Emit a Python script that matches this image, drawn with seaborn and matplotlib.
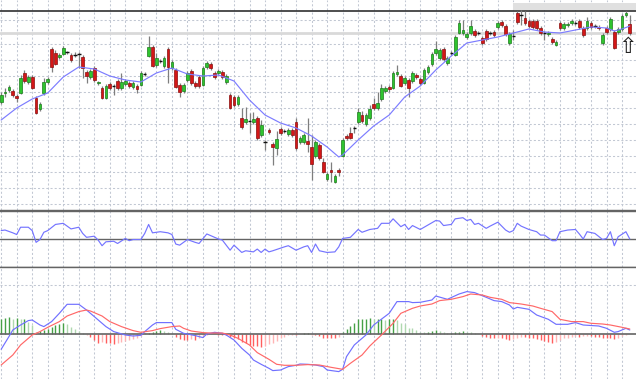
import matplotlib
matplotlib.use('Agg')
import matplotlib.pyplot as plt
import seaborn as sns
import numpy as np

#candles (price units are arbitrary)
opens = [98, 107, 110, 109, 104, 107, 127, 118, 123, 102,
         91, 107, 118, 151, 147, 143, 146, 148, 145, 145,
         146, 143, 128, 123, 132, 117, 112, 102, 116, 114,
         119, 112, 116, 117, 113, 114, 115, 126, 144, 153,
         135, 139, 134, 151, 132, 130, 115, 109, 120, 129,
         117, 123, 115, 133, 136, 127, 127, 128, 118, 105,
         103, 96, 82, 78, 79, 78, 82, 65, 58, 70,
         56, 52, 71, 69, 66, 70, 78, 58, 58, 59,
         53, 44, 55, 38, 21, 30, 18, 30, 44, 64,
         67, 72, 78, 85, 76, 82, 96, 92, 101, 109,
         113, 112, 126, 124, 117, 120, 119, 125, 121, 117,
         128, 136, 147, 142, 151, 137, 147, 145, 167, 167,
         163, 167, 169, 167, 162, 169, 167, 168, 173, 178,
         174, 157, 164, 187, 185, 182, 179, 179, 179, 172,
         167, 166, 161, 155, 177, 172, 175, 177, 177, 179,
         172, 172, 177, 174, 173, 157, 172, 171, 168, 168,
         171, 185, 176]
closes = [105, 108, 113, 105, 102, 122, 119, 123, 112, 87,
          96, 118, 121, 133, 136, 145, 152, 148, 140, 145,
          146, 132, 124, 129, 120, 118, 102, 114, 112, 114,
          112, 118, 119, 114, 117, 111, 127, 126, 153, 134,
          142, 139, 142, 133, 138, 113, 108, 115, 127, 117,
          114, 114, 132, 137, 132, 123, 129, 123, 124, 92,
          95, 103, 73, 81, 79, 81, 62, 75, 58, 68,
          53, 61, 67, 69, 70, 65, 52, 62, 65, 56,
          36, 58, 42, 28, 26, 28, 24, 28, 60, 62,
          62, 72, 88, 79, 85, 91, 92, 97, 112, 112,
          111, 127, 128, 114, 122, 112, 127, 123, 117, 130,
          133, 146, 151, 150, 141, 142, 147, 163, 177, 170,
          166, 174, 165, 167, 157, 161, 167, 165, 177, 175,
          166, 166, 164, 178, 185, 177, 174, 173, 172, 167,
          167, 167, 158, 158, 172, 176, 176, 179, 177, 173,
          165, 179, 173, 174, 172, 165, 168, 181, 152, 171,
          184, 187, 167]
highs = [108, 112, 115, 111, 106, 125, 130, 125, 125, 104,
         98, 122, 123, 153, 150, 147, 154, 149, 147, 148,
         148, 145, 130, 131, 134, 119, 114, 116, 118, 116,
         121, 127, 121, 119, 119, 116, 129, 128, 164, 155,
         147, 141, 144, 153, 140, 132, 117, 117, 129, 131,
         119, 125, 134, 139, 138, 129, 131, 130, 126, 107,
         105, 105, 92, 93, 87, 88, 84, 80, 60, 72,
         58, 69, 73, 71, 72, 72, 82, 64, 67, 82,
         65, 60, 57, 42, 28, 38, 26, 32, 62, 66,
         73, 74, 92, 89, 87, 95, 102, 108, 116, 114,
         115, 129, 135, 126, 124, 122, 129, 127, 123, 132,
         135, 148, 159, 152, 153, 144, 149, 165, 180, 180,
         168, 180, 171, 169, 164, 171, 169, 170, 179, 180,
         176, 168, 170, 189, 190, 189, 181, 181, 181, 174,
         169, 169, 163, 160, 179, 178, 178, 181, 179, 181,
         174, 183, 179, 176, 175, 167, 174, 183, 170, 173,
         186, 189, 185]
lows = [96, 103, 108, 103, 98, 106, 117, 116, 111, 86,
        89, 105, 116, 128, 135, 141, 145, 146, 138, 143,
        132, 122, 117, 121, 118, 115, 101, 101, 110, 105,
        110, 110, 114, 112, 111, 107, 114, 124, 143, 133,
        133, 137, 132, 117, 130, 112, 103, 107, 118, 115,
        112, 112, 114, 131, 130, 121, 125, 121, 116, 91,
        93, 94, 71, 76, 67, 76, 60, 63, 50, 66,
        35, 45, 65, 67, 64, 63, 50, 56, 56, 48,
        20, 42, 40, 27, 19, 18, 17, 24, 43, 60,
        61, 67, 76, 77, 74, 80, 90, 90, 99, 107,
        108, 111, 124, 113, 115, 103, 117, 121, 115, 116,
        126, 134, 145, 140, 139, 135, 145, 144, 166, 165,
        161, 165, 163, 165, 155, 159, 165, 163, 171, 173,
        164, 155, 160, 176, 175, 175, 172, 171, 170, 165,
        160, 164, 156, 154, 170, 170, 173, 175, 175, 171,
        163, 170, 171, 172, 170, 155, 166, 169, 151, 166,
        169, 183, 165]

#moving average on the price panel
ma_idx = [0, 4, 8, 12, 16, 20, 24, 28, 32, 36, 40, 44, 48, 52, 56, 60, 64, 68, 72, 76,
          80, 84, 87, 88, 92, 96, 100, 104, 108, 112, 116, 120, 124, 128, 132, 136, 140,
          144, 148, 152, 156, 158, 160, 162]
ma_val = [80, 92, 101, 107, 123, 133, 131, 124, 120, 118, 127, 132, 126, 124, 125, 119, 100,
          85, 77, 72, 64, 53, 43, 45, 60, 74, 85, 103, 114, 130, 144, 157, 160, 163, 167,
          171, 168, 167, 170, 173, 172, 169, 171, 174]

#oscillator (0-100)
osc_idx = [0, 1, 3, 4, 5, 7, 8, 9, 10, 11, 12, 14, 16, 18, 20, 21, 22, 24, 25, 26,
           27, 29, 30, 32, 33, 34, 36, 37, 38, 39, 41, 43, 44, 45, 46, 48, 50, 51, 53, 54,
           56, 57, 59, 60, 62, 63, 65, 66, 67, 68, 69, 70, 73, 74, 76, 78, 79, 80, 81, 82,
           84, 86, 87, 88, 90, 92, 93, 95, 97, 98, 100, 101, 103, 104, 105, 106, 108, 110, 112, 113,
           114, 116, 117, 119, 120, 121, 122, 123, 125, 126, 128, 130, 131, 132, 133, 134, 136, 138, 139, 140,
           142, 143, 144, 146, 148, 149, 150, 151, 153, 155, 156, 157, 158, 159, 161, 162]
osc_val = [65, 66, 61, 58, 71, 71, 65, 44, 49, 62, 65, 76, 78, 68, 71, 60, 53, 55, 48, 38,
           45, 46, 42, 51, 47, 49, 49, 60, 76, 61, 63, 61, 58, 41, 39, 49, 44, 42, 59, 56,
           50, 48, 30, 39, 26, 29, 27, 32, 26, 32, 27, 29, 36, 38, 30, 36, 38, 26, 41, 29,
           26, 27, 36, 51, 53, 67, 62, 67, 69, 78, 78, 86, 72, 76, 67, 74, 67, 75, 83, 82,
           74, 76, 86, 88, 83, 85, 76, 78, 69, 73, 80, 66, 62, 65, 78, 73, 67, 63, 57, 57,
           47, 47, 63, 66, 67, 59, 50, 63, 60, 49, 51, 63, 38, 54, 63, 50]

#MACD panel
hist = [15, 16, 17.7, 15.3, 16, 15, 15, 12.7, 9.3, 2.7,
        3.3, 4.3, 5, 7, 9.3, 10.3, 11, 10, 7.7, 5,
        3.3, 1.7, -1, -2.3, -5.7, -8.3, -7.3, -8.3, -9, -9.7,
        -8.3, -7.3, -6.3, -5.7, -5, -4, -1.7, 1, 1.7, 2.7,
        3.3, 4.3, 3.7, 2.7, 1.7, -2.3, -5, -5.7, -5.7, -5,
        -5.7, -4, -1.7, -0.7, 0.3, 0.3, -0.3, -0.7, -1, -2.3,
        -4, -5, -7.3, -8.3, -10.7, -11.7, -11.7, -12.3, -11.7, -9.7,
        -8.3, -6.3, -4, -2.3, -0.7, -0.3, -0.3, 0, 1.7, 1.7,
        -0.7, -1, -1.7, -3.3, -4, -4, -4, -2.3, 2.7, 5,
        8.3, 11, 15, 15, 15, 16, 15, 15, 15, 14.3,
        15, 15, 14.3, 11, 10, 6.7, 6, 4.3, 2.7, 2.3,
        2.7, 3.3, 4.3, 3.7, 2.7, 1, 1, 2.3, 2.7, 3.3,
        2.7, 2, 1, 0, -1.7, -2.3, -3.3, -4, -3.3, -4,
        -5, -5.7, -4.7, -3.3, -2.3, -2.3, -3.3, -4, -5, -5.7,
        -6.7, -7.3, -8.3, -7.3, -5.7, -4, -3.3, -2.3, -1.7, -2.3,
        -1.7, -1.3, -1.7, -2.3, -2.3, -3.3, -4, -4, -5, -4,
        -1.7, -0.5, 0.3]
macd_idx = [0, 2, 3, 5, 7, 8, 10, 11, 13, 15, 17, 20, 22, 24, 27, 29, 32, 34, 36, 37,
            39, 40, 44, 45, 47, 48, 50, 52, 53, 55, 57, 58, 60, 62, 64, 65, 67, 69, 70, 72,
            74, 76, 77, 79, 81, 83, 84, 87, 88, 89, 91, 94, 96, 100, 102, 105, 106, 108, 111, 112,
            115, 118, 120, 122, 125, 127, 129, 131, 132, 133, 136, 138, 141, 143, 146, 148, 150, 154, 156, 158,
            159, 161, 162]
macd_val = [-15, -2.3, 4.3, 9.3, 13.7, 14.3, 9.3, 7.7, 12.7, 21, 30, 30, 24.3, 17.7, 7.7, 2.7, -0.7, -1.7, -1, 2.7,
            9.3, 11.7, 11.7, 5, 1, 0.3, -1.3, -3.3, 0.3, 2, 1, -0.7, -5.7, -14, -20.7, -25.7, -30, -34, -36.3, -35.7,
            -32.3, -31, -29.7, -30, -30.7, -32.3, -35.7, -37.3, -35, -22.3, -10.7, -0.7, 9.3, 21, 32.7, 32.7, 31.7, 32, 34.3, 38.3,
            35, 40.3, 42.7, 41.7, 37, 33.7, 32.7, 29.3, 25.3, 27, 25, 19.3, 15, 10, 10, 11.7, 9.3, 8.3, 6, 2,
            2.7, 6, 4.3]
sig_idx = [0, 3, 5, 8, 10, 12, 15, 17, 20, 22, 23, 26, 28, 31, 34, 36, 39, 41, 44, 46,
           47, 49, 52, 54, 57, 59, 61, 64, 66, 69, 71, 73, 76, 79, 82, 85, 88, 90, 93, 95,
           98, 101, 103, 106, 108, 111, 113, 116, 119, 121, 124, 126, 129, 131, 134, 137, 139, 142, 144, 147,
           150, 152, 155, 157, 160, 162]
sig_val = [-30.7, -20.7, -10.7, -0.7, 2.7, 7, 12.7, 18.3, 22.7, 24.3, 23.3, 18.3, 12.7, 7.7, 3.7, 2, 3.7, 5.7, 7.7, 8.3,
           6, 3.3, 1.7, 1.3, 1.3, -0.7, -4, -10.7, -18.3, -25, -30, -31, -31, -30.3, -30.7, -33, -35, -29, -20.7, -11.7,
           -0.7, 11, 21, 26, 28.3, 30.3, 33.7, 35, 37.7, 40.3, 39.3, 37, 35, 31.7, 30.3, 28.3, 26, 22.7, 15, 12.7,
           12.7, 11, 10.3, 9.3, 7, 5.3]

idx = np.arange(len(opens))
o = np.array(opens, dtype=float)
c = np.array(closes, dtype=float)

sns.set_style('white')

fig = plt.figure(figsize=(6.36, 3.79), dpi=100)
ax_p = fig.add_axes([0, 0.4459, 1, 0.5541])
ax_o = fig.add_axes([0, 0.2955, 1, 0.1478], sharex=ax_p)
ax_m = fig.add_axes([0, 0, 1, 0.2955], sharex=ax_p)

grid_col = '#c2c8d3'
for ax in (ax_p, ax_o, ax_m):
    ax.set_facecolor('white')
    for s in ('left', 'right'):
        ax.spines[s].set_visible(False)
    for s in ('top', 'bottom'):
        ax.spines[s].set_color('#646464')
        ax.spines[s].set_linewidth(1)
    ax.set_xticks(np.arange(0, len(opens), 4))
    ax.tick_params(length=0, labelbottom=False, labelleft=False)
    ax.grid(True, color=grid_col, linestyle=(0, (2, 2)), linewidth=0.75)
    ax.set_axisbelow(True)
ax_p.spines['top'].set_visible(False)
ax_m.spines['bottom'].set_visible(False)
ax_p.set_xlim(-0.3, 163.6)

#price panel
ax_p.set_ylim(-10, 200)
ax_p.set_yticks([-4, 12, 28, 44, 60, 76, 92, 108, 124, 140, 156, 180])
ax_p.axhline(167, color='#d9d9d9', lw=2, zorder=1)
ax_p.axhline(189.5, color='#1e1e1e', lw=1.1, zorder=1)
ax_p.fill_between([132, 163.6], 190.3, 197.5, color='#e0e0e0', zorder=1, lw=0)

ax_p.vlines(idx, lows, highs, color='#7e7e7e', lw=0.9, zorder=2)
up = c > o
down = c < o
doji = c == o
ax_p.bar(idx[up], (c - o)[up], bottom=o[up], width=0.7, color='#2fc42f',
         edgecolor='#1b7d1b', lw=0.5, zorder=3)
ax_p.bar(idx[down], (o - c)[down], bottom=c[down], width=0.7, color='#d41717',
         edgecolor='#8a0f0f', lw=0.5, zorder=3)
ax_p.hlines(o[doji], idx[doji] - 0.45, idx[doji] + 0.45, color='#111111', lw=1, zorder=3)

sns.lineplot(x=ma_idx, y=ma_val, ax=ax_p, color='#7c7cff', lw=0.85, zorder=4)
ax_p.text(161.3, 153, '\u21e7', fontsize=16, ha='center', va='center', color='#222222')

#oscillator panel
ax_o.set_ylim(0, 100)
ax_o.set_yticks([])
ax_o.axhline(50, color='#646464', lw=1, zorder=1)
sns.lineplot(x=osc_idx, y=osc_val, ax=ax_o, color='#7474ff', lw=0.85, zorder=3)

#MACD panel
ax_m.set_ylim(-44.7, 67.3)
ax_m.set_yticks([49.3])
h = np.array(hist)
prev = np.concatenate([[0], np.abs(h[:-1])])
strong = np.abs(h) >= prev
hcol = np.where(h >= 0,
                np.where(strong, '#46a046', '#afd8af'),
                np.where(strong, '#ff5e5e', '#ffb4b4'))
ax_m.vlines(idx, 0, h, colors=hcol, lw=1, zorder=2)
ax_m.axhline(0, color='#646464', lw=1.2, zorder=3)
sns.lineplot(x=macd_idx, y=macd_val, ax=ax_m, color='#7070ff', lw=0.85, zorder=4)
sns.lineplot(x=sig_idx, y=sig_val, ax=ax_m, color='#ff6868', lw=0.85, zorder=4)

for ax in (ax_p, ax_o, ax_m):
    ax.set_xlabel('')
    ax.set_ylabel('')

fig.savefig('out.png', dpi=100)
